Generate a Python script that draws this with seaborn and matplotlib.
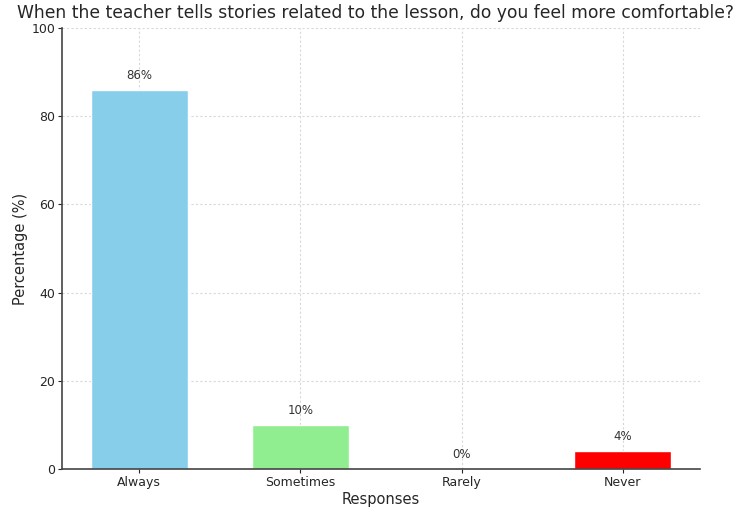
import matplotlib
matplotlib.use("Agg")
import matplotlib.pyplot as plt
import seaborn as sns
import pandas as pd

responses = ["Always", "Sometimes", "Rarely", "Never"]
percentages = [86, 10, 0, 4]
colors = ["skyblue", "lightgreen", "lightgrey", "red"]

sns.set_style("white")
plt.rcParams['font.family'] = ['DejaVu Sans']

df = pd.DataFrame({"Responses": responses, "Percentage": percentages})

fig, ax = plt.subplots(figsize=(7.45, 5.09), dpi=100)
sns.barplot(data=df, x="Responses", y="Percentage", hue="Responses",
            palette=colors, legend=False, width=0.6, saturation=1, ax=ax)

for i, v in enumerate(percentages):
    ax.text(i, v + 1.8, f"{v}%", ha="center", va="bottom", fontsize=8.5, color="#333333")

ax.set_ylim(0, 100)
ax.set_xlim(-0.48, 3.48)
ax.set_xlabel("Responses", fontsize=10.5, labelpad=2)
ax.set_ylabel("Percentage (%)", fontsize=10.5, labelpad=2)
ax.set_title("When the teacher tells stories related to the lesson, do you feel more comfortable?",
             fontsize=12.3, pad=7, x=0.4915)
ax.grid(True, linestyle=(0, (2, 2)), color="#d8d8d8", linewidth=0.8)
ax.set_axisbelow(True)
ax.tick_params(axis="x", labelsize=9, length=3, pad=2, bottom=True)
ax.tick_params(axis="y", labelsize=9, length=3, pad=2, left=True)
for s in ["top", "right"]:
    ax.spines[s].set_visible(False)
for s in ["left", "bottom"]:
    ax.spines[s].set_color("#444444")
    ax.spines[s].set_linewidth(1.2)
ax.set_position([62/745, 1-469/509, (700-62)/745, (469-28)/509])

fig.savefig("out.png", dpi=100)
